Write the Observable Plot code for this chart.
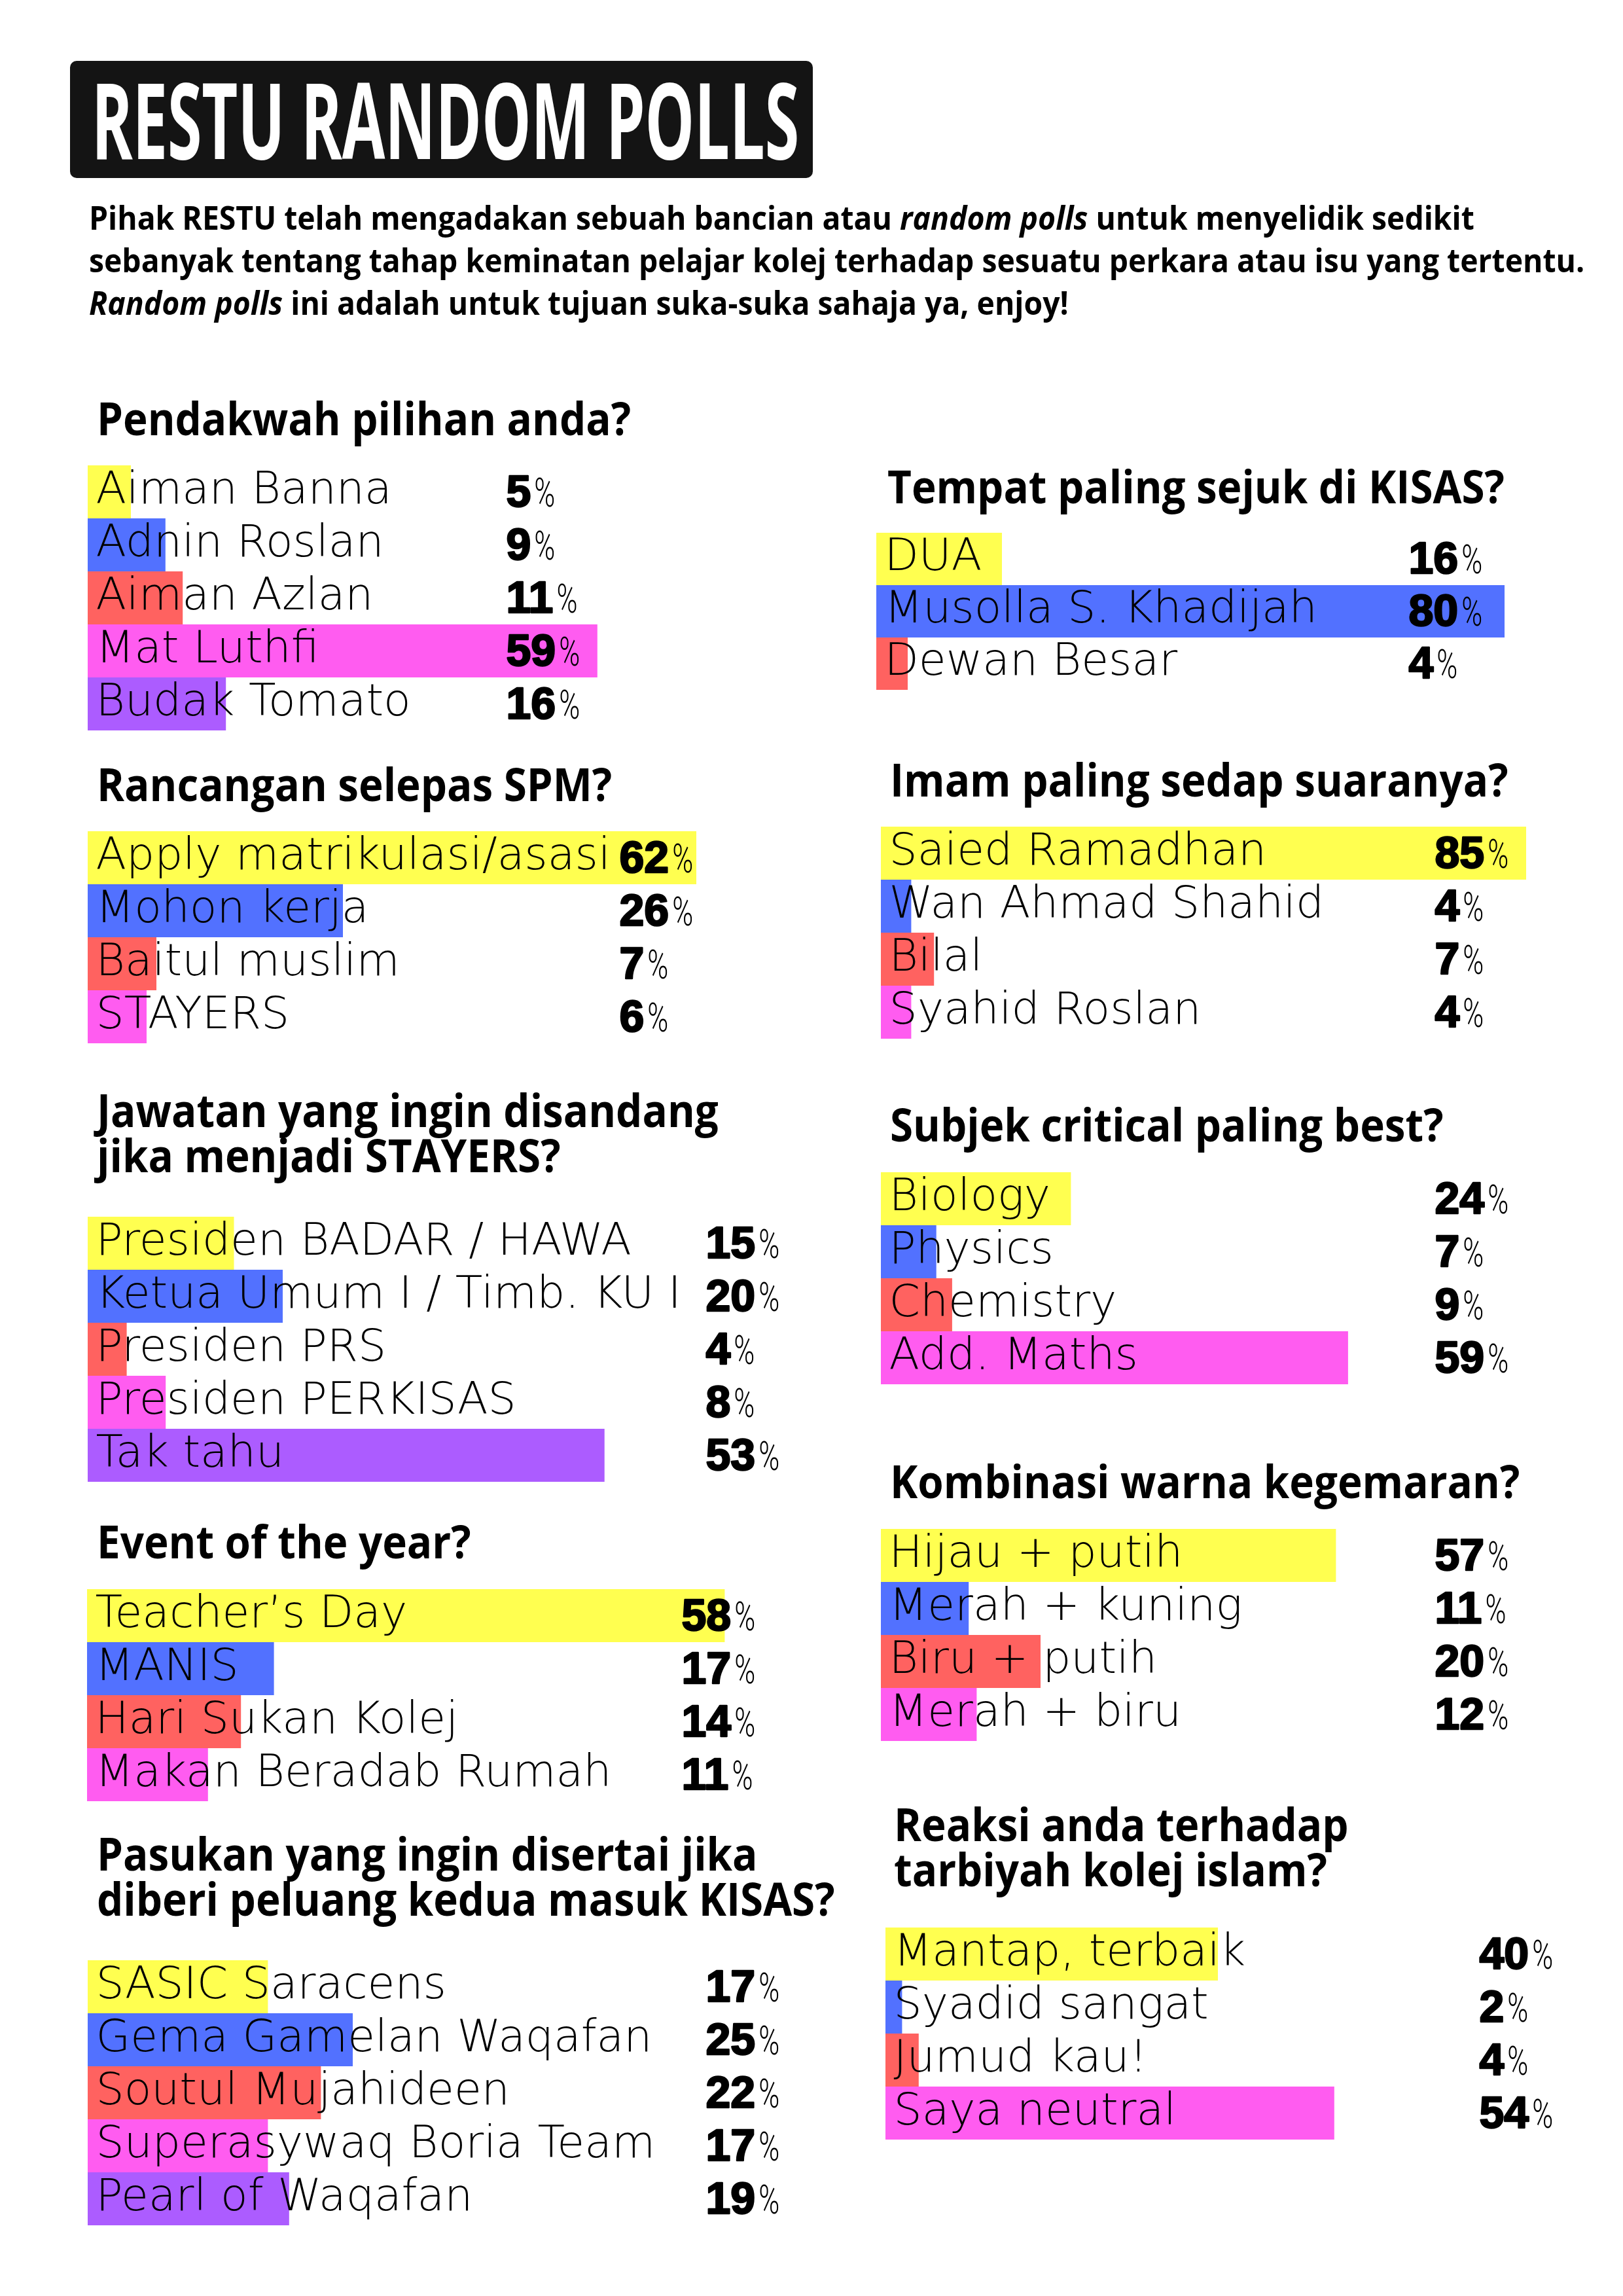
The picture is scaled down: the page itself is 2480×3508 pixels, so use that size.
<!DOCTYPE html>
<html>
<head>
<meta charset="utf-8">
<script src="https://cdn.jsdelivr.net/npm/d3@7"></script>
<script src="https://cdn.jsdelivr.net/npm/@observablehq/plot@0.6"></script>
<style>
  html, body { margin: 0; padding: 0; background: #fff; }
  #page { position: relative; width: 2480px; height: 3508px; background: #fff; overflow: hidden; }
  .titlebox { position: absolute; left: 107px; top: 93px; width: 1135px; height: 179px; background: #141414; border-radius: 10px; }
  .titletext { position: absolute; left: 140px; top: 99px; color: #fff; font-family: "Open Sans", sans-serif; font-weight: 700; font-size: 162px; line-height: 162px; white-space: nowrap; transform-origin: 0 0; }
  .sub { position: absolute; left: 136px; top: 300px; font-family: "Open Sans", sans-serif; font-weight: 700; font-size: 50px; line-height: 65px; white-space: pre; transform-origin: 0 0; color: #000; }
  .head { position: absolute; font-family: "Open Sans", sans-serif; font-weight: 700; font-size: 70px; line-height: 69px; white-space: pre; transform-origin: 0 0; color: #000; }
  .panel { position: absolute; }
</style>
</head>
<body>
<div id="page"></div>
<script>
// ---------- DATA ----------
const titleText = "RESTU RANDOM POLLS";
const introLines = [
  ["Pihak RESTU telah mengadakan sebuah bancian atau ", ["random polls"], " untuk menyelidik sedikit"],
  ["sebanyak tentang tahap keminatan pelajar kolej terhadap sesuatu perkara atau isu yang tertentu."],
  [["Random polls"], " ini adalah untuk tujuan suka-suka sahaja ya, enjoy!"]
];

const palette = ["#FFFF50", "#5271FF", "#FF6260", "#FF5CF0", "#AC5CFF"];

const q1Title = "Pendakwah pilihan anda?";
const q1Labels = ["Aiman Banna", "Adnin Roslan", "Aiman Azlan", "Mat Luthfi", "Budak Tomato"];
const q1Values = [5, 9, 11, 59, 16];

const q2Title = "Rancangan selepas SPM?";
const q2Labels = ["Apply matrikulasi/asasi", "Mohon kerja", "Baitul muslim", "STAYERS"];
const q2Values = [62, 26, 7, 6];

const q3Title = "Jawatan yang ingin disandang\njika menjadi STAYERS?";
const q3Labels = ["Presiden BADAR / HAWA", "Ketua Umum I / Timb. KU I", "Presiden PRS", "Presiden PERKISAS", "Tak tahu"];
const q3Values = [15, 20, 4, 8, 53];

const q4Title = "Event of the year?";
const q4Labels = ["Teacher\u2019s Day", "MANIS", "Hari Sukan Kolej", "Makan Beradab Rumah"];
const q4Values = [58, 17, 14, 11];

const q5Title = "Pasukan yang ingin disertai jika\ndiberi peluang kedua masuk KISAS?";
const q5Labels = ["SASIC Saracens", "Gema Gamelan Waqafan", "Soutul Mujahideen", "Superasywaq Boria Team", "Pearl of Waqafan"];
const q5Values = [17, 25, 22, 17, 19];

const q6Title = "Tempat paling sejuk di KISAS?";
const q6Labels = ["DUA", "Musolla S. Khadijah", "Dewan Besar"];
const q6Values = [16, 80, 4];

const q7Title = "Imam paling sedap suaranya?";
const q7Labels = ["Saied Ramadhan", "Wan Ahmad Shahid", "Bilal", "Syahid Roslan"];
const q7Values = [85, 4, 7, 4];

const q8Title = "Subjek critical paling best?";
const q8Labels = ["Biology", "Physics", "Chemistry", "Add. Maths"];
const q8Values = [24, 7, 9, 59];

const q9Title = "Kombinasi warna kegemaran?";
const q9Labels = ["Hijau + putih", "Merah + kuning", "Biru + putih", "Merah + biru"];
const q9Values = [57, 11, 20, 12];

const q10Title = "Reaksi anda terhadap\ntarbiyah kolej islam?";
const q10Labels = ["Mantap, terbaik", "Syadid sangat", "Jumud kau!", "Saya neutral"];
const q10Values = [40, 2, 4, 54];

// ---------- LAYOUT (positions / sizes only) ----------
const panels = [
  {title: q1Title, labels: q1Labels, values: q1Values, headX: 148, headBase: 666, left: 134, top: 711, rowH: 81, width: 1100, pxPer: 13.2, valueX: 639},
  {title: q2Title, labels: q2Labels, values: q2Values, headX: 148, headBase: 1225, left: 134, top: 1270, rowH: 81, width: 1100, pxPer: 15.0, valueX: 812},
  {title: q3Title, labels: q3Labels, values: q3Values, headX: 148, headBase: 1723, left: 134, top: 1859, rowH: 81, width: 1100, pxPer: 14.9, valueX: 944},
  {title: q4Title, labels: q4Labels, values: q4Values, headX: 148, headBase: 2382, left: 133, top: 2428, rowH: 81, width: 1100, pxPer: 16.8, valueX: 908},
  {title: q5Title, labels: q5Labels, values: q5Values, headX: 148, headBase: 2859, left: 134, top: 2995, rowH: 81, width: 1100, pxPer: 16.2, valueX: 944},
  {title: q6Title, labels: q6Labels, values: q6Values, headX: 1356, headBase: 770, left: 1339, top: 814, rowH: 80, width: 1100, pxPer: 12.0, valueX: 813},
  {title: q7Title, labels: q7Labels, values: q7Values, headX: 1360, headBase: 1218, left: 1346, top: 1263, rowH: 81, width: 1090, pxPer: 11.6, valueX: 846},
  {title: q8Title, labels: q8Labels, values: q8Values, headX: 1360, headBase: 1745, left: 1346, top: 1791, rowH: 81, width: 1090, pxPer: 12.1, valueX: 846},
  {title: q9Title, labels: q9Labels, values: q9Values, headX: 1360, headBase: 2290, left: 1346, top: 2336, rowH: 81, width: 1090, pxPer: 12.2, valueX: 846},
  {title: q10Title, labels: q10Labels, values: q10Values, headX: 1366, headBase: 2814, left: 1353, top: 2945, rowH: 81, width: 1090, pxPer: 12.7, valueX: 907}
];

const HEAD_SIZE = 70, HEAD_LH = 69, HEAD_SCALE = 0.91;
const SUB_SCALE = 0.926;

const page = document.getElementById("page");

// Title
const box = document.createElement("div");
box.className = "titlebox";
page.appendChild(box);
const tt = document.createElement("div");
tt.className = "titletext";
tt.textContent = titleText;
page.appendChild(tt);
const natural = tt.getBoundingClientRect().width;
tt.style.transform = `scaleX(${1081 / natural})`;

// Intro paragraph
const sub = document.createElement("div");
sub.className = "sub";
introLines.forEach((line, li) => {
  line.forEach(part => {
    const s = document.createElement("span");
    if (Array.isArray(part)) { s.style.fontStyle = "italic"; s.textContent = part[0]; }
    else s.textContent = part;
    sub.appendChild(s);
  });
  if (li < introLines.length - 1) sub.appendChild(document.createTextNode("\n"));
});
sub.style.transform = `scaleX(${SUB_SCALE})`;
page.appendChild(sub);

// Panels
const VALUE_FONT = "Liberation Sans, Arial, sans-serif";
for (const p of panels) {
  const h = document.createElement("div");
  h.className = "head";
  h.textContent = p.title;
  h.style.left = p.headX + "px";
  h.style.top = (p.headBase - (HEAD_LH / 2 + 0.388 * HEAD_SIZE)) + "px";
  h.style.transform = `scaleX(${HEAD_SCALE})`;
  page.appendChild(h);

  const rows = p.labels.map((label, i) => ({label, value: p.values[i]}));
  const H = p.rowH * rows.length;
  const svg = Plot.plot({
    width: p.width,
    height: H,
    margin: 0,
    style: {background: "transparent", overflow: "visible"},
    x: {domain: [0, p.width / p.pxPer], axis: null},
    y: {domain: p.labels, padding: 0, axis: null},
    color: {domain: p.labels, range: palette.slice(0, rows.length)},
    marks: [
      Plot.barX(rows, {x: "value", y: "label", fill: "label"}),
      Plot.text(rows, {
        y: "label", text: "label", frameAnchor: "left", textAnchor: "start",
        dx: 12, dy: -5, fontSize: 68, fontFamily: "DejaVu Sans ExtraLight, DejaVu Sans", fontWeight: 200, fill: "black"
      }),
      Plot.text(rows, {
        y: "label", text: d => String(d.value), frameAnchor: "left", textAnchor: "start",
        dx: p.valueX, fontSize: 68, fontFamily: VALUE_FONT, fontWeight: 700,
        fill: "black", stroke: "black", strokeWidth: 2.5, ariaLabel: "value"
      })
    ]
  });
  svg.classList.add("panel");
  svg.style.left = p.left + "px";
  svg.style.top = p.top + "px";
  page.appendChild(svg);

  // unit sign after each value (thin, condensed)
  const valueTexts = Array.from(svg.querySelectorAll("text")).filter(t => {
    const g = t.closest("g");
    const ff = (g && g.getAttribute("font-family")) || t.getAttribute("font-family") || "";
    return ff.indexOf("Liberation") >= 0;
  });
  for (const t of valueTexts) {
    const ts = document.createElementNS("http://www.w3.org/2000/svg", "tspan");
    ts.setAttribute("dx", 5);
    ts.setAttribute("font-family", "Roboto, sans-serif");
    ts.setAttribute("font-weight", 300);
    ts.setAttribute("font-size", 62);
    ts.setAttribute("stroke", "none");
    ts.setAttribute("stroke-width", 0);
    ts.setAttribute("textLength", 32);
    ts.setAttribute("lengthAdjust", "spacingAndGlyphs");
    ts.textContent = "%";
    t.appendChild(ts);
  }
}
</script>
</body>
</html>
